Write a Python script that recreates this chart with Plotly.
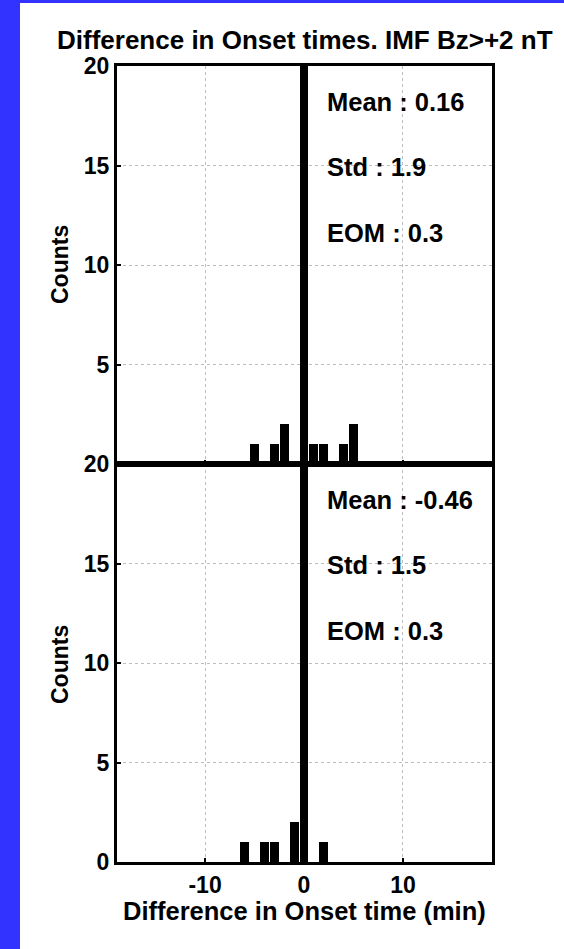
import plotly.graph_objects as go

# Data
top_x = [-5, -3, -2, 1, 2, 4, 5]
top_counts = [1, 1, 2, 1, 1, 1, 2]
bot_x = [-6, -4, -3, -1, 2]
bot_counts = [1, 1, 1, 2, 1]
top_stats = ["Mean : 0.16", "Std : 1.9", "EOM : 0.3"]
bot_stats = ["Mean : -0.46", "Std : 1.5", "EOM : 0.3"]
stat_y = [18.2, 14.9, 11.6]
x_ticks = [-10, 0, 10]
y_ticks_top = [5, 10, 15, 20]
y_ticks_bot = [0, 5, 10, 15, 20]
title = "Difference in Onset times. IMF Bz>+2 nT"
xlabel = "Difference in Onset time (min)"
ylabel = "Counts"

FONT = "Liberation Sans, Arial, sans-serif"
W, H = 564, 949
L, R, T, B = 117, 72, 66, 87
PW, PH = W - L - R, H - T - B

fig = go.Figure()
fig.add_trace(go.Bar(x=top_x, y=top_counts, width=0.9, marker=dict(color="black", line=dict(width=0)),
                     xaxis="x2", yaxis="y2", showlegend=False))
fig.add_trace(go.Bar(x=bot_x, y=bot_counts, width=0.9, marker=dict(color="black", line=dict(width=0)),
                     xaxis="x", yaxis="y", showlegend=False))

axis_common = dict(showline=True, linewidth=3, linecolor="black", mirror=True,
                   ticks="inside", ticklen=4, tickwidth=2, tickcolor="black",
                   showgrid=True, gridcolor="#bdbdbd", griddash="dot", gridwidth=1,
                   zeroline=False, tickfont=dict(family=FONT, size=23, color="black", weight="bold"))

fig.update_layout(
    width=W, height=H,
    margin=dict(l=L, r=R, t=T, b=B),
    paper_bgcolor="white", plot_bgcolor="white",
    bargap=0,
    xaxis=dict(range=[-18.9, 19], tickvals=x_ticks, ticktext=[str(v) for v in x_ticks],
               anchor="y", **axis_common),
    xaxis2=dict(range=[-18.9, 19], tickvals=x_ticks, showticklabels=False,
                anchor="y2", matches="x", **axis_common),
    yaxis=dict(range=[0, 20], tickvals=y_ticks_bot, domain=[0, 0.5], anchor="x", **axis_common),
    yaxis2=dict(range=[0, 20], tickvals=y_ticks_top, domain=[0.5, 1], anchor="x2", **axis_common),
)

def px_x(px):
    return (px - L) / PW

def px_y(py):
    return (H - B - py) / PH

# blue frame strips: left strip and top band
fig.add_shape(type="rect", xref="paper", yref="paper",
              x0=px_x(-2), x1=px_x(20), y0=px_y(H + 2), y1=px_y(-2),
              fillcolor="#3333ff", line=dict(width=0), layer="above")
fig.add_shape(type="rect", xref="paper", yref="paper",
              x0=px_x(-2), x1=px_x(W + 2), y0=px_y(3), y1=px_y(-2),
              fillcolor="#3333ff", line=dict(width=0), layer="above")

# thick reference line at zero spanning both panels
fig.add_shape(type="line", xref="x", yref="paper", x0=0, x1=0, y0=0, y1=1,
              line=dict(color="black", width=8))

statfont = dict(family=FONT, size=25.5, color="black", weight="bold")
for s, yv in zip(top_stats, stat_y):
    fig.add_annotation(x=2.1, y=yv, xref="x2", yref="y2", text=s, showarrow=False,
                       xanchor="left", yanchor="middle", font=statfont)
for s, yv in zip(bot_stats, stat_y):
    fig.add_annotation(x=2.1, y=yv, xref="x", yref="y", text=s, showarrow=False,
                       xanchor="left", yanchor="middle", font=statfont)

fig.add_annotation(x=px_x(305), y=px_y(40), xref="paper", yref="paper",
                   text=title, showarrow=False, xanchor="center", yanchor="middle",
                   font=dict(family=FONT, size=26, color="black", weight="bold"))
fig.add_annotation(x=px_x(304), y=px_y(911), xref="paper", yref="paper",
                   text=xlabel, showarrow=False, xanchor="center", yanchor="middle",
                   font=dict(family=FONT, size=25.5, color="black", weight="bold"))
for yc in [265, 665]:
    fig.add_annotation(x=px_x(60), y=px_y(yc), xref="paper", yref="paper",
                       text=ylabel, showarrow=False, textangle=-90, xanchor="center", yanchor="middle",
                       font=dict(family=FONT, size=23, color="black", weight="bold"))

fig.write_html("out.html", config={"displayModeBar": False},
               post_script="document.body.style.margin='0';document.body.style.background='#3333ff';")
